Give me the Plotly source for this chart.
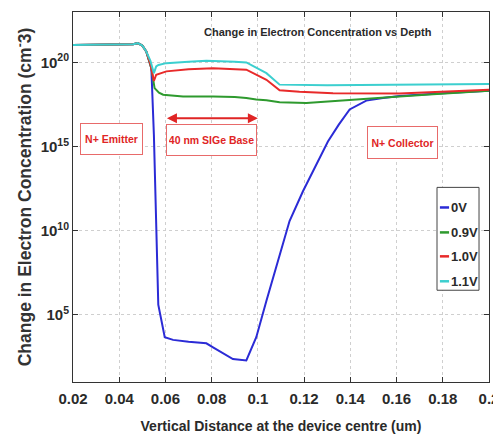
import plotly.graph_objects as go

# ---- data ----
x_0v = [0.02, 0.03, 0.04, 0.046, 0.048, 0.050, 0.0517, 0.0539, 0.055, 0.056, 0.0569, 0.0597, 0.0633,
        0.07, 0.0777, 0.0806, 0.085, 0.0892, 0.095, 0.0993, 0.1037, 0.1094, 0.1137, 0.1195, 0.1253,
        0.1303, 0.135, 0.1397, 0.1469, 0.1541, 0.1613, 0.17, 0.18, 0.19, 0.2]
y_0v = [1.1e21, 1.1e21, 1.1e21, 1.2e21, 1.4e21, 1.0e21, 4.5e20, 4.6e19, 5e15, 6.3e9, 4e5, 4.6e3, 3.2e3,
        2.5e3, 2.0e3, 1.15e3, 5e2, 2.3e2, 1.9e2, 4.6e3, 6.8e5, 4e8, 3.7e10, 2.2e12, 8.5e13,
        2e15, 2e16, 1.6e17, 5.4e17, 7.8e17, 1e18, 1.26e18, 1.5e18, 1.74e18, 2.1e18]

x_09v = [0.02, 0.03, 0.04, 0.046, 0.048, 0.050, 0.0517, 0.0539, 0.0553, 0.0572, 0.059, 0.0676, 0.0806,
         0.09, 0.095, 0.0993, 0.1037, 0.1094, 0.121, 0.1325, 0.147, 0.1613, 0.1758, 0.2]
y_09v = [1.1e21, 1.1e21, 1.1e21, 1.2e21, 1.4e21, 1.0e21, 4.5e20, 4.6e19, 3.0e18, 1.6e18, 1.2e18, 9.5e17, 9.5e17,
         8.9e17, 7.6e17, 6.2e17, 5.6e17, 4.3e17, 3.9e17, 4.9e17, 6.8e17, 9.5e17, 1.3e18, 2.1e18]

x_10v = [0.02, 0.03, 0.04, 0.046, 0.048, 0.050, 0.0517, 0.0535, 0.055, 0.056, 0.0604, 0.07, 0.0806,
         0.09, 0.095, 0.1037, 0.1094, 0.118, 0.1325, 0.1613, 0.18, 0.2]
y_10v = [1.1e21, 1.1e21, 1.1e21, 1.2e21, 1.4e21, 1.0e21, 4.5e20, 8e19, 7.9e18, 1.86e19, 2.95e19, 4e19, 4.6e19,
         4.2e19, 3.7e19, 9.3e18, 2.2e18, 1.8e18, 1.5e18, 1.45e18, 1.8e18, 2.4e18]

x_11v = [0.02, 0.03, 0.04, 0.046, 0.048, 0.050, 0.0517, 0.0535, 0.055, 0.056, 0.057, 0.0604, 0.07, 0.0777,
         0.09, 0.095, 0.1037, 0.1094, 0.13, 0.16, 0.2]
y_11v = [1.1e21, 1.1e21, 1.1e21, 1.2e21, 1.4e21, 1.0e21, 4.5e20, 1.26e20, 2.3e19, 5.8e19, 7.1e19, 9.1e19, 1.12e20,
         1.26e20, 1.12e20, 1.0e20, 2.3e19, 4.8e18, 4.4e18, 4.6e18, 5.2e18]

series = [
    ("0V", x_0v, y_0v, "#2b2bd6"),
    ("0.9V", x_09v, y_09v, "#2e9a2e"),
    ("1.0V", x_10v, y_10v, "#e82a2a"),
    ("1.1V", x_11v, y_11v, "#3ccfcf"),
]

x_ticks = [0.02, 0.04, 0.06, 0.08, 0.1, 0.12, 0.14, 0.16, 0.18, 0.2]
x_ticktext = ["0.02", "0.04", "0.06", "0.08", "0.1", "0.12", "0.14", "0.16", "0.18", "0.2"]
y_ticks = [1e5, 1e10, 1e15, 1e20]
y_ticktext = ["10<sup>5</sup>", "10<sup>10</sup>", "10<sup>15</sup>", "10<sup>20</sup>"]

base_arrow = (0.06, 0.1)
region_labels = ["N+ Emitter", "40 nm SIGe Base", "N+ Collector"]

FONT = "Liberation Sans"
TXT = "#2a2a2a"
RED = "#e02525"

fig = go.Figure()
for name, xs, ys, col in series:
    fig.add_trace(go.Scatter(x=xs, y=ys, mode="lines", name=name, showlegend=False,
                             line=dict(color=col, width=2)))

fig.update_layout(
    width=493, height=426,
    margin=dict(l=65, r=12, t=4, b=52, autoexpand=False),
    paper_bgcolor="white", plot_bgcolor="white",
    font=dict(family=FONT, color=TXT),
    showlegend=False,
    xaxis=dict(range=[0.02, 0.2], tickvals=x_ticks, ticktext=x_ticktext, automargin=False,
               showline=True, linecolor="#333", linewidth=1, mirror="allticks",
               ticks="inside", ticklen=5, tickcolor="#333", ticklabelstandoff=3,
               showgrid=True, gridcolor="#cfcfcf", griddash="dot", gridwidth=1,
               zeroline=False,
               tickfont=dict(size=15, family=FONT, color=TXT, weight="bold"),
               title=dict(text="Vertical Distance at the device centre (um)",
                          font=dict(size=14, family=FONT, color=TXT, weight="bold"), standoff=16)),
    yaxis=dict(type="log", range=[1, 23], tickvals=y_ticks, ticktext=y_ticktext, automargin=False,
               showline=True, linecolor="#333", linewidth=1, mirror="allticks",
               ticks="inside", ticklen=5, tickcolor="#333",
               showgrid=True, gridcolor="#cfcfcf", griddash="dot", gridwidth=1,
               zeroline=False,
               tickfont=dict(size=15, family=FONT, color=TXT, weight="bold"),
               title=dict(text="Change in Electron Concentration (cm<sup>-</sup>3)",
                          font=dict(size=17.5, family=FONT, color="#333", weight="bold"), standoff=4)),
)

# title inside the plot
fig.add_annotation(xref="paper", yref="paper", x=0.589, y=0.946, showarrow=False,
                   xanchor="center", yanchor="middle",
                   text="Change in Electron Concentration vs Depth",
                   font=dict(size=11, family=FONT, color=TXT, weight="bold"))

# region label boxes
boxes = [(0.0925, 0.658, 57, 26), (0.333, 0.655, 85, 26), (0.792, 0.648, 65, 27)]
for label, (bx, by, w, h) in zip(region_labels, boxes):
    fig.add_annotation(xref="paper", yref="paper", x=bx, y=by, showarrow=False,
                       xanchor="center", yanchor="middle",
                       text=label, width=w, height=h, align="center", valign="middle",
                       bordercolor="#e86a6a", borderwidth=1, borderpad=2, bgcolor="white",
                       font=dict(size=10.5, family=FONT, color=RED, weight="bold"))

# double arrow over base
fig.add_annotation(xref="x", yref="y", x=base_arrow[1], y=16.68, axref="x", ayref="y",
                   ax=base_arrow[0], ay=16.68, text="", showarrow=True,
                   arrowhead=2, startarrowhead=2, arrowside="end+start",
                   arrowsize=1, arrowwidth=2, arrowcolor=RED)

# compact MATLAB-style legend
fig.add_shape(type="rect", xref="paper", yref="paper", x0=0.875, x1=0.976, y0=0.248, y1=0.526,
              line=dict(color="#444", width=1), fillcolor="white", layer="above")
legend_y = [0.4717, 0.4043, 0.3396, 0.2722]
for (name, _, _, col), ly in zip(series, legend_y):
    fig.add_shape(type="line", xref="paper", yref="paper", x0=0.882, x1=0.904, y0=ly, y1=ly,
                  line=dict(color=col, width=2.5), layer="above")
    fig.add_annotation(xref="paper", yref="paper", x=0.904, y=ly, showarrow=False,
                       xanchor="left", yanchor="middle", text=name,
                       font=dict(size=13, family=FONT, color=TXT, weight="bold"))

fig.write_html("out.html")
